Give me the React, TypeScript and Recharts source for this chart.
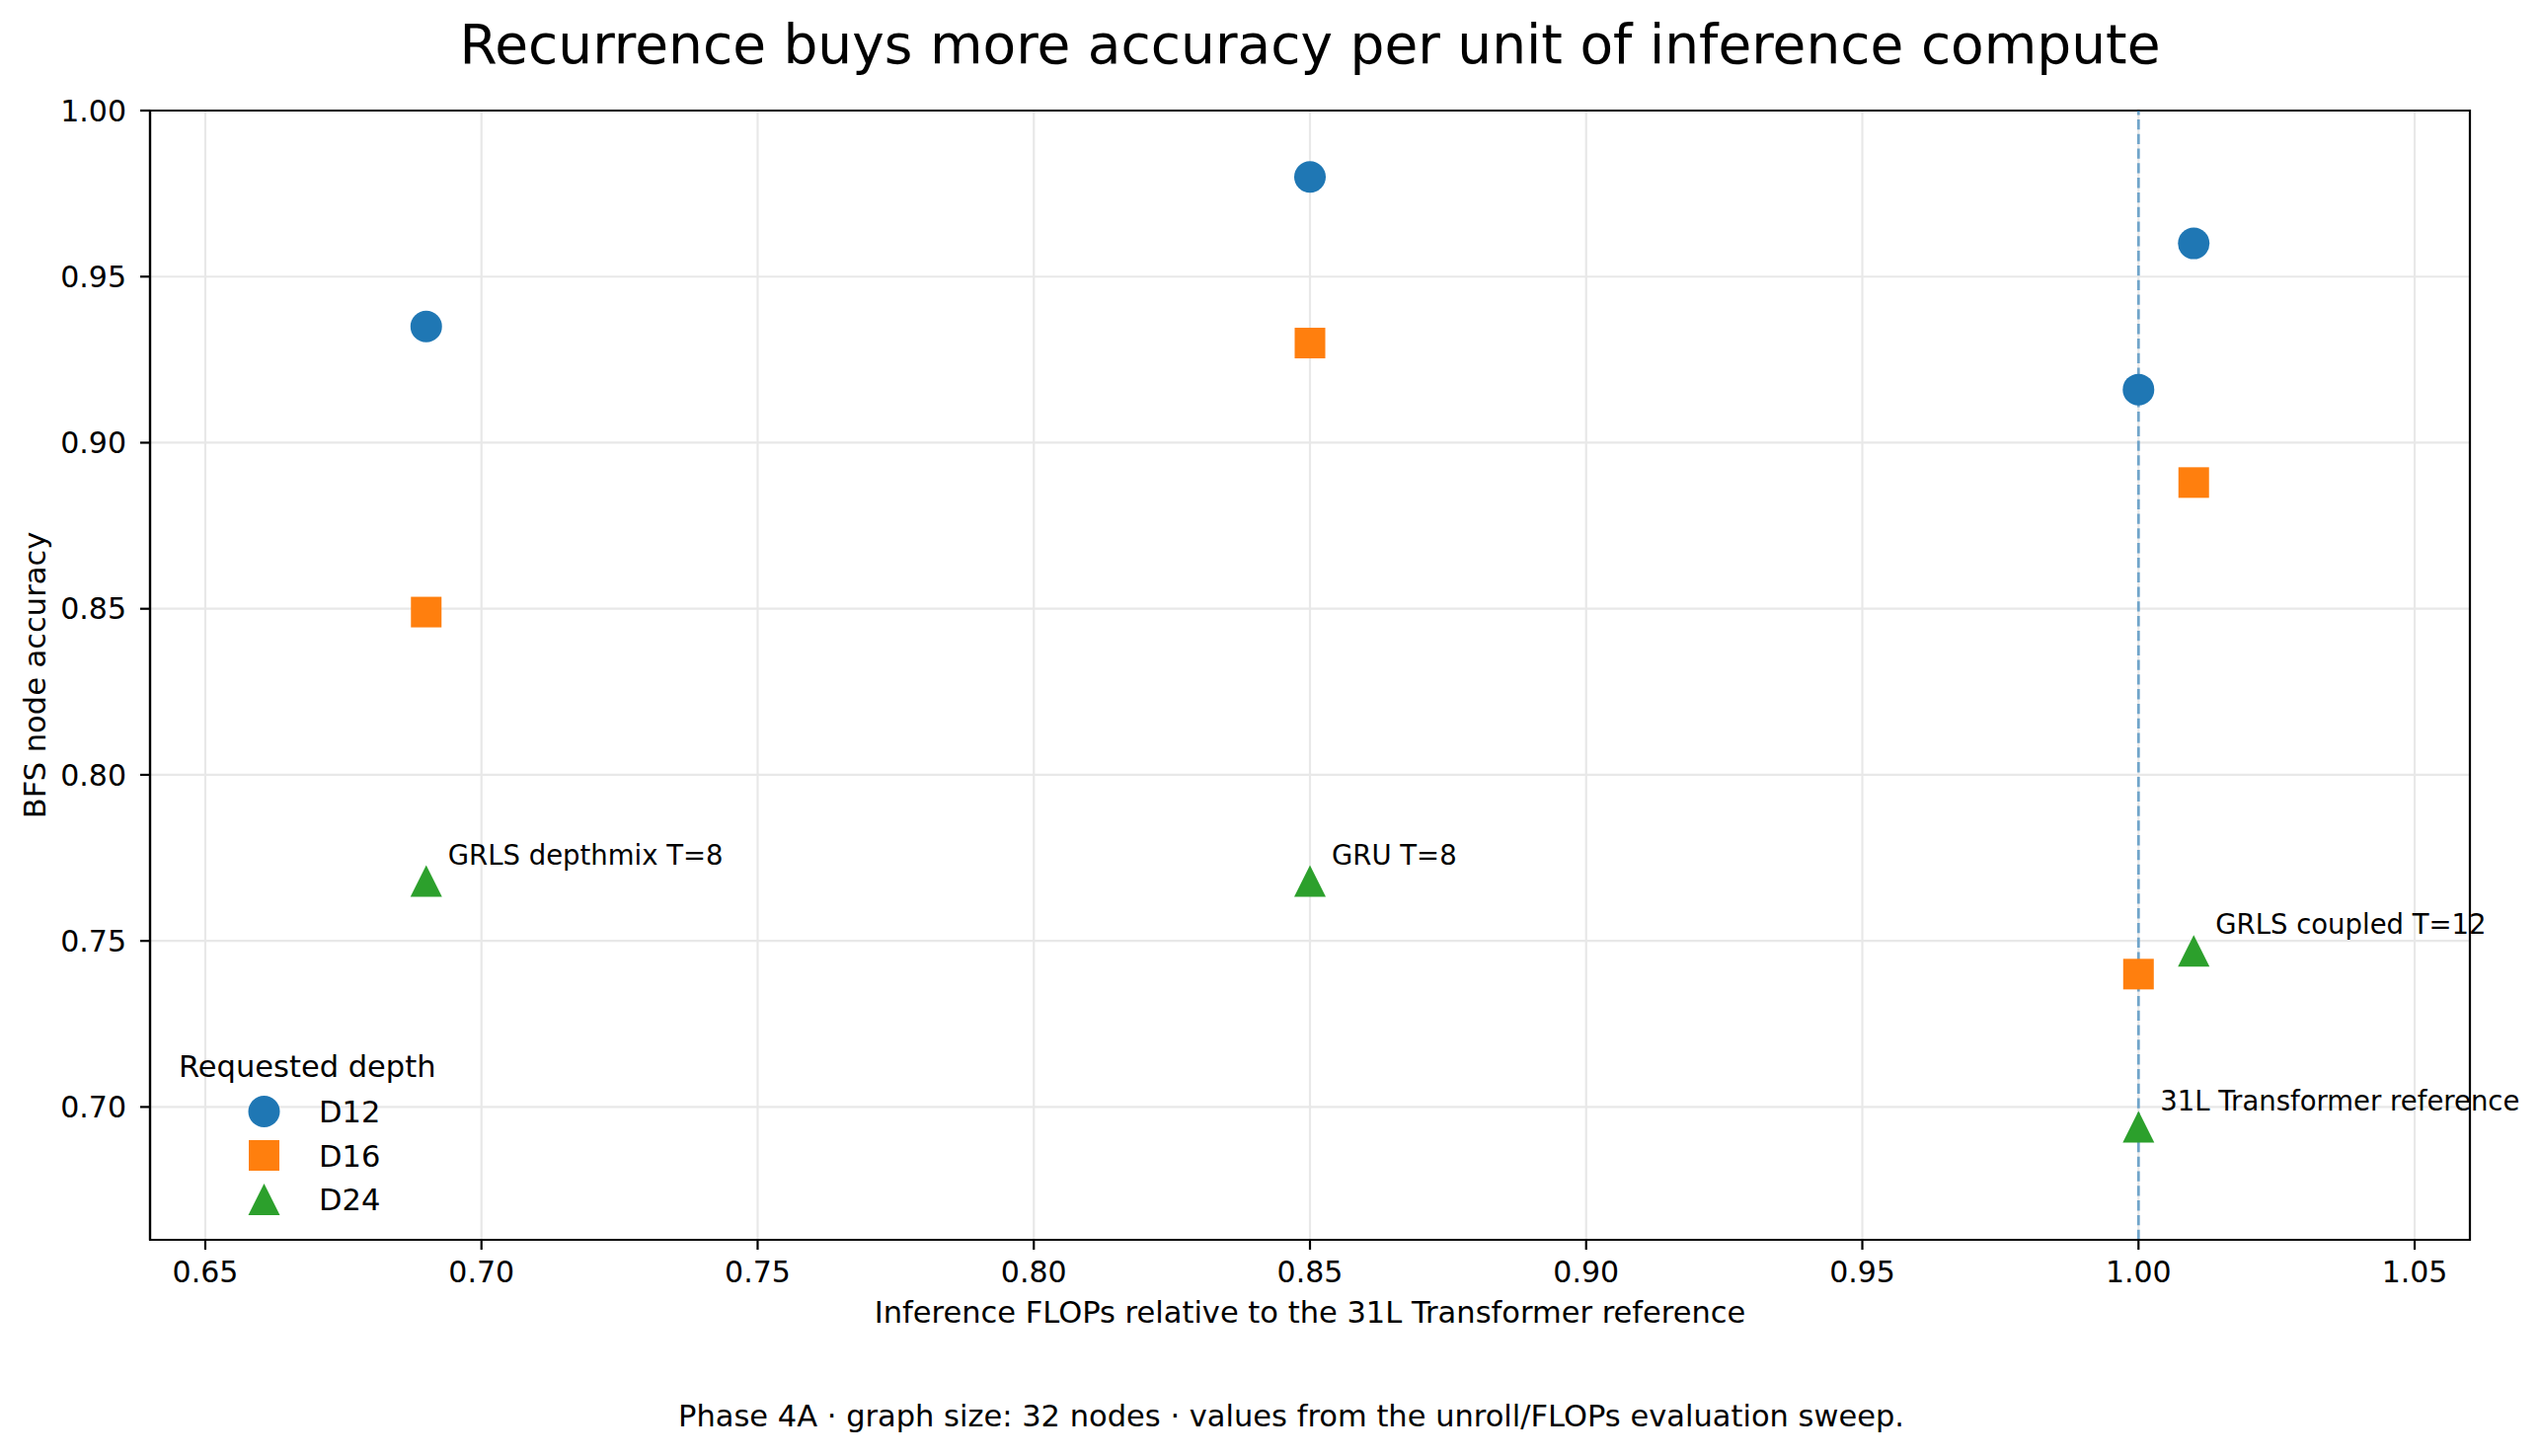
import React from 'react'
import {
  ScatterChart,
  Scatter,
  XAxis,
  YAxis,
  CartesianGrid,
  ReferenceLine,
  ReferenceArea,
  Legend,
} from 'recharts'

// inference FLOPs relative to the 31L Transformer, one per run
const flops = [0.69, 0.85, 1.01, 1.0]
const runNames = [
  'GRLS depthmix T=8',
  'GRU T=8',
  'GRLS coupled T=12',
  '31L Transformer reference',
]
const depthNames = ['D12', 'D16', 'D24']
const accD12 = [0.935, 0.98, 0.96, 0.916]
const accD16 = [0.849, 0.93, 0.888, 0.74]
const accD24 = [0.768, 0.768, 0.747, 0.694]
const xTicks = [0.65, 0.7, 0.75, 0.8, 0.85, 0.9, 0.95, 1.0, 1.05]
const yTicks = [0.7, 0.75, 0.8, 0.85, 0.9, 0.95, 1.0]
const referenceFlops = 1.0

const BLUE = '#1f77b4'
const ORANGE = '#ff7f0e'
const GREEN = '#2ca02c'
const FONT = 'DejaVu Sans'

const toPoints = (acc: number[]) =>
  flops.map((x, i) => ({ x, y: acc[i], run: runNames[i] }))

const Circle = ({ cx, cy, fill }: any) => <circle cx={cx} cy={cy} r={16} fill={fill} />
const Square = ({ cx, cy, fill }: any) => (
  <rect x={cx - 15.5} y={cy - 15.5} width={31} height={31} fill={fill} />
)
const Triangle = ({ cx, cy, fill }: any) => (
  <path d={`M${cx},${cy - 16}L${cx + 16},${cy + 16}L${cx - 16},${cy + 16}Z`} fill={fill} />
)

// D24 triangles carry the run names
const AnnotatedTriangle = (props: any) => (
  <g>
    <Triangle {...props} />
    <text x={props.cx + 22} y={props.cy - 17} fontSize={27.5} fontFamily={FONT} fill="#000">
      {props.payload?.run}
    </text>
  </g>
)

const markers = [Circle, Square, Triangle]

const DepthLegend = ({ payload }: any) => (
  <svg width={360} height={200}>
    <text x={21} y={46} fontSize={30.5} fontFamily={FONT} fill="#000">
      Requested depth
    </text>
    {(payload ?? []).map((entry: any, i: number) => {
      const idx = depthNames.indexOf(entry.value)
      const M = markers[idx >= 0 ? idx : i]
      const cy = 81 + (idx >= 0 ? idx : i) * 44.5
      return (
        <g key={entry.value}>
          <M cx={107.5} cy={cy} fill={entry.color} />
          <text x={163} y={cy + 11} fontSize={30.5} fontFamily={FONT} fill="#000">
            {entry.value}
          </text>
        </g>
      )
    })}
  </svg>
)

const XTitle = ({ viewBox }: any) => (
  <text
    x={viewBox.x + viewBox.width / 2}
    y={viewBox.y + 84}
    textAnchor="middle"
    fontSize={30.5}
    fontFamily={FONT}
    fill="#000"
  >
    Inference FLOPs relative to the 31L Transformer reference
  </text>
)

const YTitle = ({ viewBox }: any) => {
  const x = viewBox.x + 46
  const y = viewBox.y + viewBox.height / 2
  return (
    <text
      x={x}
      y={y}
      transform={`rotate(-90, ${x}, ${y})`}
      textAnchor="middle"
      fontSize={30.5}
      fontFamily={FONT}
      fill="#000"
    >
      BFS node accuracy
    </text>
  )
}

const tickStyle = { fill: '#000', fontSize: 30, fontFamily: FONT }
const lineStyle = { stroke: '#000', strokeWidth: 2.2 }

export default function App() {
  return (
    <div style={{ position: 'absolute', left: 0, top: 0, width: 2572, height: 1475, background: '#fff' }}>
      <ScatterChart
        width={2572}
        height={1475}
        margin={{ top: 112, right: 70, bottom: 0, left: 0 }}
      >
        <CartesianGrid stroke="#e8e8e8" strokeWidth={2.2} />
        <XAxis
          type="number"
          dataKey="x"
          domain={[0.64, 1.06]}
          ticks={xTicks}
          tickFormatter={(v: number) => v.toFixed(2)}
          height={219}
          tickSize={10}
          tickMargin={12}
          tick={tickStyle}
          axisLine={lineStyle}
          tickLine={lineStyle}
          label={<XTitle />}
        />
        <YAxis
          type="number"
          dataKey="y"
          domain={[0.66, 1.0]}
          ticks={yTicks}
          tickFormatter={(v: number) => v.toFixed(2)}
          width={152}
          tickSize={10}
          tickMargin={14}
          tick={tickStyle}
          axisLine={lineStyle}
          tickLine={lineStyle}
          label={<YTitle />}
        />
        <Scatter name={depthNames[0]} data={toPoints(accD12)} fill={BLUE} shape={Circle} isAnimationActive={false} />
        <Scatter name={depthNames[1]} data={toPoints(accD16)} fill={ORANGE} shape={Square} isAnimationActive={false} />
        <Scatter name={depthNames[2]} data={toPoints(accD24)} fill={GREEN} shape={AnnotatedTriangle} isAnimationActive={false} />
        <ReferenceLine
          x={referenceFlops}
          stroke={BLUE}
          strokeOpacity={0.6}
          strokeWidth={2.8}
          strokeDasharray="10.3 4.5"
        />
        <ReferenceArea x1={0.64} x2={1.06} y1={0.66} y2={1.0} fill="none" stroke="#000" strokeWidth={2.2} />
        <Legend
          layout="vertical"
          align="center"
          verticalAlign="middle"
          wrapperStyle={{ left: 160, top: 1045, width: 360, height: 200 }}
          content={<DepthLegend />}
        />
      </ScatterChart>
      <svg
        width={2572}
        height={1475}
        style={{ position: 'absolute', left: 0, top: 0, pointerEvents: 'none' }}
      >
        <text x={1327} y={64} textAnchor="middle" fontSize={55} fontFamily={FONT} fill="#000">
          Recurrence buys more accuracy per unit of inference compute
        </text>
        <text x={1308} y={1445} textAnchor="middle" fontSize={30.5} fontFamily={FONT} fill="#000">
          Phase 4A · graph size: 32 nodes · values from the unroll/FLOPs evaluation sweep.
        </text>
      </svg>
    </div>
  )
}
